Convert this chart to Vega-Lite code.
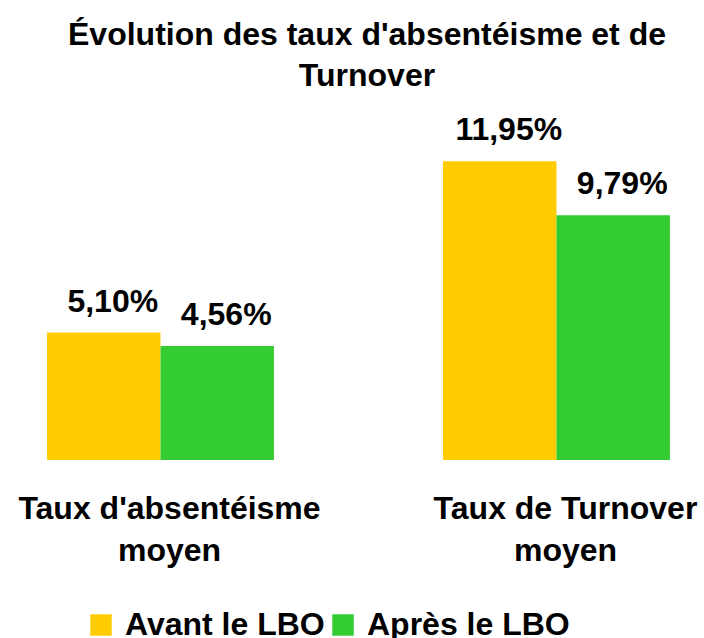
{
  "$schema": "https://vega.github.io/schema/vega-lite/v6.json",
  "width": 704,
  "height": 350,
  "autosize": {"type": "none"},
  "padding": {"left": 0, "top": 110, "right": 0, "bottom": 178},
  "background": "white",
  "config": {
    "font": "Liberation Sans",
    "view": {"stroke": null},
    "locale": {"number": {"decimal": ",", "thousands": " ", "grouping": [3], "currency": ["", " €"]}}
  },
  "title": {
    "text": ["Évolution des taux d'absentéisme et de", "Turnover"],
    "fontSize": 32,
    "fontWeight": "bold",
    "font": "Liberation Sans",
    "color": "black",
    "anchor": "middle",
    "dx": 15,
    "lineHeight": 41,
    "offset": 17
  },
  "data": {
    "values": [
      {"indicateur": "Taux d'absentéisme moyen", "periode": "Avant le LBO", "taux": 0.0510},
      {"indicateur": "Taux d'absentéisme moyen", "periode": "Après le LBO", "taux": 0.0456},
      {"indicateur": "Taux de Turnover moyen", "periode": "Avant le LBO", "taux": 0.1195},
      {"indicateur": "Taux de Turnover moyen", "periode": "Après le LBO", "taux": 0.0979}
    ]
  },
  "encoding": {
    "x": {
      "field": "indicateur",
      "type": "nominal",
      "sort": ["Taux d'absentéisme moyen", "Taux de Turnover moyen"],
      "scale": {"paddingInner": 0.427, "paddingOuter": 0.1024, "align": 0.58},
      "axis": {
        "title": null,
        "domain": false,
        "ticks": false,
        "labelAngle": 0,
        "labelFontSize": 32,
        "labelFontWeight": "bold",
        "labelFont": "Liberation Sans",
        "labelColor": "black",
        "labelOffset": 9,
        "labelPadding": 58,
        "labelBaseline": "alphabetic",
        "labelLineHeight": 42,
        "labelLimit": 400,
        "labelExpr": "datum.value == \"Taux d'absentéisme moyen\" ? [\"Taux d'absentéisme\", \"moyen\"] : [\"Taux de Turnover\", \"moyen\"]"
      }
    },
    "xOffset": {
      "field": "periode",
      "type": "nominal",
      "sort": ["Avant le LBO", "Après le LBO"],
      "scale": {"paddingInner": 0, "paddingOuter": 0}
    },
    "y": {
      "field": "taux",
      "type": "quantitative",
      "scale": {"domain": [0, 0.14]},
      "axis": null
    }
  },
  "layer": [
    {
      "mark": {"type": "bar"},
      "encoding": {
        "color": {
          "field": "periode",
          "type": "nominal",
          "sort": ["Avant le LBO", "Après le LBO"],
          "scale": {"domain": ["Avant le LBO", "Après le LBO"], "range": ["#FFCC00", "#33CC33"]},
          "legend": {
            "title": null,
            "orient": "none",
            "direction": "horizontal",
            "legendX": 85,
            "legendY": 499,
            "symbolType": "square",
            "symbolSize": 460,
            "symbolStrokeWidth": 0,
            "symbolOpacity": 1,
            "labelFontSize": 32,
            "labelFontWeight": "bold",
            "labelFont": "Liberation Sans",
            "labelColor": "black",
            "labelOffset": 8,
            "columnPadding": 2,
            "labelLimit": 400
          }
        }
      }
    },
    {
      "mark": {"type": "text", "fontSize": 32, "fontWeight": "bold", "font": "Liberation Sans", "color": "black", "baseline": "alphabetic", "dy": -21, "dx": 9},
      "encoding": {
        "text": {"field": "taux", "type": "quantitative", "format": ".2%"}
      }
    }
  ]
}
